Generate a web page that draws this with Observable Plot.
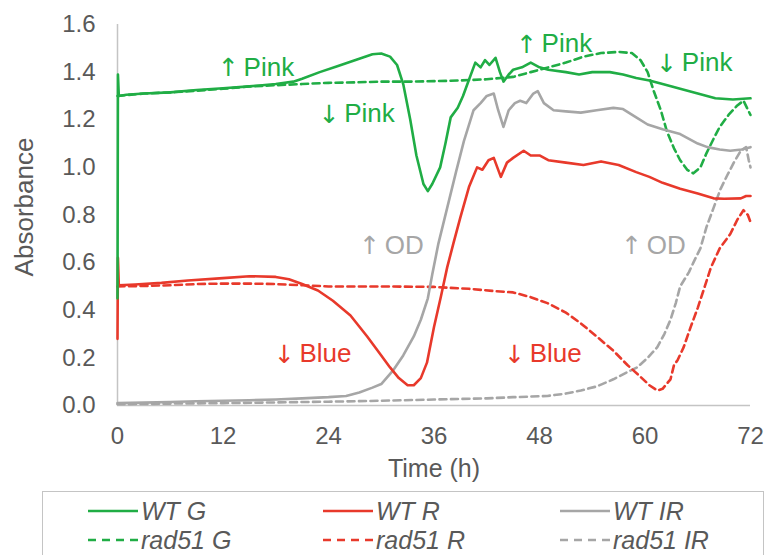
<!DOCTYPE html>
<html>
<head>
<meta charset="utf-8">
<script src="https://cdn.jsdelivr.net/npm/d3@7"></script>
<script src="https://cdn.jsdelivr.net/npm/@observablehq/plot@0.6"></script>
<style>
  html, body { margin: 0; padding: 0; background: #fff; }
  #wrap { position: relative; width: 780px; height: 555px; overflow: hidden; font-family: "Liberation Sans", Arial, sans-serif; }
  #legend { position: absolute; left: 42px; top: 491px; width: 722px; height: 90px; border: 1.5px solid #c4c4c4; box-sizing: border-box; }
  .item { position: absolute; display: flex; align-items: center; font-style: italic; font-size: 25px; color: #595959; line-height: 28px; }
  .item svg { margin-right: 3px; }
</style>
</head>
<body>
<div id="wrap">
  <div id="chart"></div>
  <div id="legend"></div>
</div>
<script>
// ---- data: [time (h), absorbance] ----
const xTicks = [0, 12, 24, 36, 48, 60, 72];
const yTicks = [0, 0.2, 0.4, 0.6, 0.8, 1.0, 1.2, 1.4, 1.6];

const wtG = [[0,0.45],[0.05,1.39],[0.15,1.30],[1,1.305],[3,1.31],[6,1.315],[9,1.325],[12,1.332],[15,1.34],[18,1.35],[20,1.36],[21,1.372],[23,1.40],[25,1.425],[27,1.45],[29,1.475],[30,1.478],[31,1.465],[31.8,1.43],[32.5,1.35],[33.3,1.20],[34,1.05],[34.8,0.93],[35.3,0.90],[35.8,0.93],[36.7,1.00],[37.3,1.10],[37.9,1.21],[38.7,1.25],[39.3,1.30],[39.8,1.35],[40.7,1.44],[41.3,1.42],[41.8,1.45],[42.3,1.43],[43,1.46],[43.5,1.40],[43.9,1.36],[44.5,1.39],[45,1.41],[46,1.42],[47,1.44],[48,1.42],[49,1.41],[51,1.40],[52.5,1.39],[54,1.40],[56,1.40],[57.5,1.39],[59,1.375],[60.5,1.365],[62,1.35],[64,1.33],[66,1.31],[68,1.29],[70,1.285],[72,1.29]];

const wtR = [[0,0.28],[0.05,0.62],[0.15,0.505],[2,0.508],[5,0.515],[8,0.525],[12,0.535],[15,0.543],[18,0.54],[19.5,0.53],[21,0.51],[22.8,0.483],[24.5,0.44],[26.5,0.378],[28.4,0.29],[30,0.21],[31,0.16],[32,0.115],[33,0.085],[33.7,0.085],[34.5,0.115],[35.2,0.18],[36,0.33],[36.8,0.46],[37.5,0.58],[38.2,0.68],[39,0.79],[40,0.92],[40.9,1.0],[41.5,0.99],[42.2,1.03],[42.8,1.04],[43.6,0.96],[44.3,1.02],[45,1.04],[46.2,1.07],[47,1.05],[48,1.05],[49,1.03],[51,1.02],[53,1.01],[55,1.025],[57,1.01],[59,0.98],[60.5,0.96],[62,0.935],[64,0.91],[66,0.89],[67.8,0.87],[69,0.868],[70.9,0.87],[71.5,0.88],[72,0.88]];

const wtIR = [[0,0.01],[3,0.012],[6,0.015],[9,0.018],[12,0.02],[15,0.022],[18,0.025],[21,0.03],[24,0.035],[26,0.04],[27.5,0.055],[29,0.075],[30,0.09],[31.4,0.15],[32.5,0.21],[33.7,0.29],[34.5,0.36],[35.3,0.45],[35.8,0.55],[36.5,0.68],[37.5,0.83],[38.5,0.98],[39.4,1.11],[40.5,1.24],[41.3,1.27],[42,1.30],[42.8,1.31],[43.3,1.24],[43.9,1.17],[44.5,1.24],[45.2,1.27],[45.8,1.28],[46.5,1.27],[47.3,1.31],[47.8,1.32],[48.5,1.27],[49.6,1.24],[51,1.235],[52.7,1.23],[54.5,1.24],[56.4,1.25],[57.5,1.245],[59,1.21],[60.3,1.18],[62,1.16],[64,1.14],[66,1.10],[67.1,1.085],[68.5,1.075],[69.7,1.07],[71,1.075],[72,1.085]];

const rad51G = [[0,1.30],[3,1.31],[6,1.315],[9,1.322],[12,1.33],[15,1.34],[18,1.345],[21,1.35],[24,1.355],[27,1.357],[30,1.36],[33,1.36],[36,1.362],[39,1.365],[42,1.37],[45,1.38],[47,1.40],[49,1.42],[51,1.44],[53,1.465],[55,1.48],[57,1.485],[58.5,1.48],[59.5,1.45],[60.3,1.40],[61,1.32],[61.8,1.24],[62.5,1.15],[63.3,1.08],[64,1.03],[64.8,0.99],[65.5,0.975],[66.3,1.00],[67,1.06],[67.8,1.12],[68.5,1.17],[69.5,1.22],[70.5,1.26],[71.2,1.28],[71.6,1.25],[72,1.22]];

const rad51R = [[0,0.50],[3,0.502],[6,0.505],[9,0.51],[12,0.512],[15,0.512],[18,0.51],[21,0.505],[24,0.50],[30,0.50],[36,0.498],[40,0.49],[43,0.48],[45,0.475],[47,0.455],[48.9,0.43],[51,0.39],[52.7,0.345],[54.5,0.29],[56.4,0.23],[58,0.17],[59.5,0.12],[60.5,0.085],[61.4,0.063],[62,0.07],[62.9,0.11],[63.3,0.17],[63.7,0.19],[64.4,0.245],[65.2,0.33],[66,0.41],[66.8,0.50],[67.5,0.58],[68.5,0.66],[69.7,0.72],[70.5,0.78],[71.2,0.82],[71.7,0.80],[72,0.77]];

const rad51IR = [[0,0.005],[6,0.008],[12,0.01],[18,0.013],[24,0.016],[30,0.02],[36,0.025],[42,0.03],[45,0.035],[48.9,0.04],[51,0.05],[52.7,0.063],[54.5,0.08],[56.4,0.11],[58,0.14],[59.1,0.16],[60.3,0.2],[61.4,0.245],[62.2,0.30],[62.9,0.36],[63.5,0.43],[64,0.50],[65,0.56],[65.5,0.6],[66.3,0.66],[67,0.75],[67.8,0.83],[68.6,0.91],[69.4,0.97],[70.1,1.02],[70.9,1.07],[71.5,1.085],[71.8,1.03],[72,1.00]];

// annotation anchors (left edge of the label, in data units)
const annotations = [
  {arrow: "↑", word: "Pink", t: 11.95, v: 1.42, c: "g"},
  {arrow: "↓", word: "Pink", t: 23.4, v: 1.225, c: "g"},
  {arrow: "↑", word: "Pink", t: 45.85, v: 1.52, c: "g"},
  {arrow: "↓", word: "Pink", t: 61.8, v: 1.44, c: "g"},
  {arrow: "↑", word: "OD", t: 28.0, v: 0.672, c: "k"},
  {arrow: "↑", word: "OD", t: 57.8, v: 0.672, c: "k"},
  {arrow: "↓", word: "Blue", t: 18.3, v: 0.218, c: "r"},
  {arrow: "↓", word: "Blue", t: 44.5, v: 0.218, c: "r"}
];

const legendItems = [
  {name: "WT G", c: "g", dash: false}, {name: "WT R", c: "r", dash: false}, {name: "WT IR", c: "k", dash: false},
  {name: "rad51 G", c: "g", dash: true}, {name: "rad51 R", c: "r", dash: true}, {name: "rad51 IR", c: "k", dash: true}
];

// ---- styles ----
const colors = {g: "#20ad45", r: "#e8392b", k: "#a6a6a6"};
const dash = "7,4.5";
const lw = 2.6;
const X = d => d[0], Y = d => d[1];

const chart = Plot.plot({
  width: 780,
  height: 487,
  marginLeft: 117,
  marginRight: 30,
  marginTop: 24,
  marginBottom: 82,
  style: {fontFamily: "'Liberation Sans', Arial, sans-serif", fontSize: "24px", color: "#595959", background: "#fff"},
  x: {domain: [0, 72], ticks: xTicks, tickSize: 0, tickPadding: 21, label: null},
  y: {domain: [0, 1.6], ticks: yTicks, tickFormat: d3.format(".1f"), tickSize: 0, tickPadding: 22, label: null},
  marks: [
    Plot.ruleY([0], {stroke: "#c4c4c4", strokeWidth: 1.5}),
    Plot.ruleX([0], {stroke: "#c4c4c4", strokeWidth: 1.5}),
    Plot.line(rad51IR, {x: X, y: Y, stroke: colors.k, strokeWidth: lw, strokeDasharray: dash}),
    Plot.line(rad51R, {x: X, y: Y, stroke: colors.r, strokeWidth: lw, strokeDasharray: dash}),
    Plot.line(rad51G, {x: X, y: Y, stroke: colors.g, strokeWidth: lw, strokeDasharray: dash}),
    Plot.line(wtIR, {x: X, y: Y, stroke: colors.k, strokeWidth: lw}),
    Plot.line(wtR, {x: X, y: Y, stroke: colors.r, strokeWidth: lw}),
    Plot.line(wtG, {x: X, y: Y, stroke: colors.g, strokeWidth: lw}),
    Plot.text(annotations, {x: "t", y: "v", text: "arrow", fill: d => colors[d.c], fontSize: 25, fontFamily: "DejaVu Sans", textAnchor: "middle", lineAnchor: "middle", dx: 6, dy: 1}),
    Plot.text(annotations, {x: "t", y: "v", text: "word", fill: d => colors[d.c], fontSize: 26, textAnchor: "start", lineAnchor: "middle", dx: 21}),
    Plot.text(["Absorbance"], {frameAnchor: "left", dx: -93, dy: -8, rotate: -90, fontSize: 26, fill: "#595959", textAnchor: "middle", lineAnchor: "middle"}),
    Plot.text(["Time (h)"], {frameAnchor: "bottom", dy: 63, fontSize: 25, fill: "#595959", textAnchor: "middle", lineAnchor: "middle"})
  ]
});
document.getElementById("chart").appendChild(chart);

// ---- legend ----
const legend = document.getElementById("legend");
const colLeft = [45, 280, 517];
const rowTop = [5, 34];
legendItems.forEach((it, i) => {
  const div = document.createElement("div");
  div.className = "item";
  div.style.left = colLeft[i % 3] + "px";
  div.style.top = rowTop[Math.floor(i / 3)] + "px";
  const ns = "http://www.w3.org/2000/svg";
  const s = document.createElementNS(ns, "svg");
  s.setAttribute("width", 50); s.setAttribute("height", 6);
  const l = document.createElementNS(ns, "line");
  l.setAttribute("x1", 0); l.setAttribute("x2", 50); l.setAttribute("y1", 3); l.setAttribute("y2", 3);
  l.setAttribute("stroke", colors[it.c]); l.setAttribute("stroke-width", lw);
  if (it.dash) l.setAttribute("stroke-dasharray", "8,6");
  s.appendChild(l);
  div.appendChild(s);
  const sp = document.createElement("span");
  sp.textContent = it.name;
  div.appendChild(sp);
  legend.appendChild(div);
});
</script>
</body>
</html>
